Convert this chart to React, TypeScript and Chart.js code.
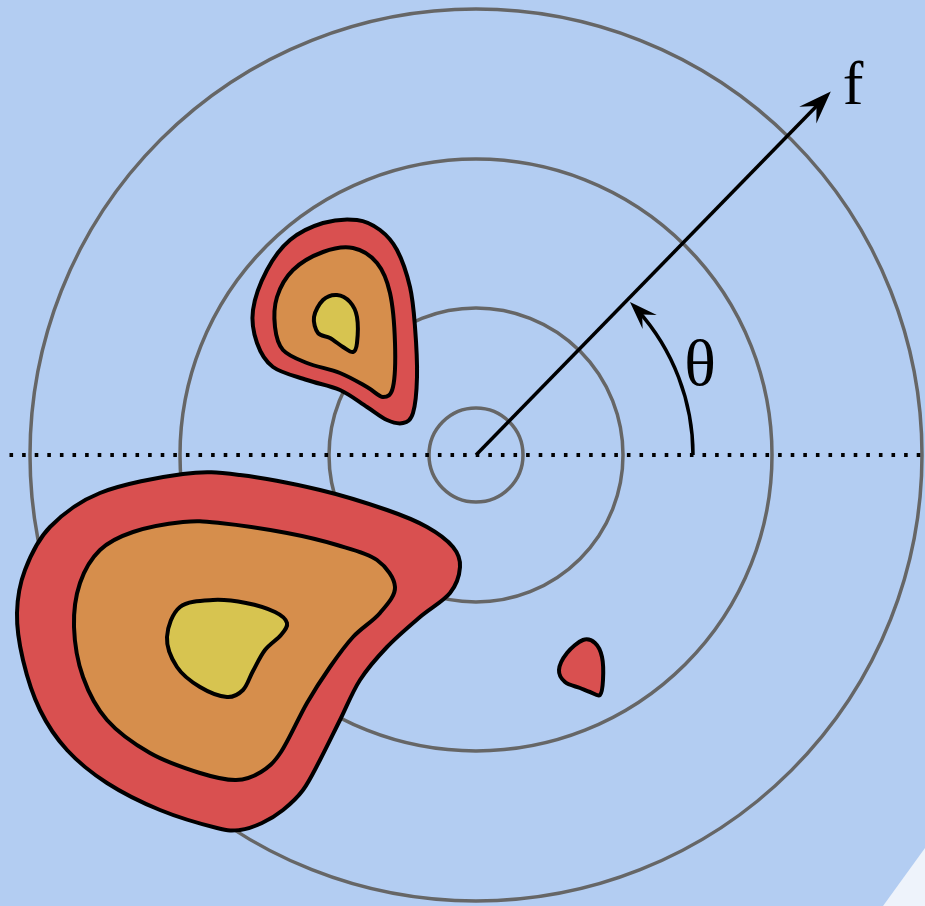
import { useEffect, useRef } from "react";
import { Chart, registerables } from "chart.js";

Chart.register(...registerables);

type Pt = [number, number];

// Plane coordinates are centred on the origin of the polar grid, y pointing up.
const xRange: Pt = [-476, 449];
const yRange: Pt = [-451, 455];

// Radii of the concentric grid rings.
const ringRadii = [47, 147, 296, 446];

// Large contour group (lower left): outer, middle and inner level.
const bigOuter: Pt[] = [
  [-293, -19], [-376, -38], [-426, -72], [-451, -115], [-459, -158], [-453, -205],
  [-436, -255], [-409, -295], [-369, -328], [-316, -355], [-259, -373], [-236, -375],
  [-214, -368], [-193, -355], [-173, -335], [-156, -305], [-136, -265], [-116, -225],
  [-89, -192], [-56, -162], [-26, -138], [-16, -112], [-23, -92], [-49, -72],
  [-89, -55], [-156, -35], [-236, -20],
];
const bigMiddle: Pt[] = [
  [-293, -67], [-343, -77], [-376, -95], [-396, -128], [-402, -172], [-393, -222],
  [-369, -265], [-326, -298], [-276, -318], [-240, -325], [-215, -317], [-195, -297],
  [-169, -248], [-146, -212], [-123, -182], [-96, -158], [-81, -132], [-99, -105],
  [-139, -90], [-189, -78], [-256, -68],
];
const bigInner: Pt[] = [
  [-263, -145], [-296, -152], [-309, -182], [-299, -212], [-276, -232], [-249, -242],
  [-233, -235], [-223, -216], [-211, -195], [-195, -180], [-189, -168], [-201, -157],
  [-230, -148],
];

// Upper contour group.
const topOuter: Pt[] = [
  [-119, 235], [-153, 232], [-186, 215], [-209, 185], [-223, 145], [-219, 112],
  [-203, 88], [-169, 75], [-136, 65], [-109, 48], [-89, 35], [-73, 32],
  [-63, 42], [-59, 78], [-61, 128], [-66, 168], [-79, 205], [-96, 225],
];
const topMiddle: Pt[] = [
  [-123, 207], [-153, 203], [-183, 185], [-199, 158], [-201, 128], [-193, 105],
  [-169, 92], [-136, 82], [-109, 68], [-93, 58], [-83, 68], [-81, 112],
  [-86, 162], [-99, 192],
];
const topInner: Pt[] = [
  [-139, 160], [-153, 155], [-162, 138], [-158, 122], [-146, 117], [-133, 108],
  [-123, 103], [-119, 112], [-119, 138], [-126, 153],
];

// Small isolated contour (lower right).
const smallOuter: Pt[] = [
  [107, -185], [91, -198], [83, -215], [89, -227], [104, -233], [114, -237],
  [124, -240], [127, -225], [126, -202], [119, -188],
];

const levelColors = ["#d95050", "#d68e4c", "#d7c450"];
const contours: { pts: Pt[]; level: number }[] = [
  { pts: bigOuter, level: 0 },
  { pts: bigMiddle, level: 1 },
  { pts: bigInner, level: 2 },
  { pts: topOuter, level: 0 },
  { pts: topMiddle, level: 1 },
  { pts: topInner, level: 2 },
  { pts: smallOuter, level: 0 },
];

// Direction vector f and the angle arc theta.
const fArrow = { angleDeg: 45.7, length: 508 };
const thetaArc = { radius: 217, endDeg: 44.8 };
const fLabel = { text: "f", at: [377, 351] as Pt };
const thetaLabel = { text: "θ", at: [224, 70] as Pt };

const bg = "#b3cdf2";

function stealth(ctx: CanvasRenderingContext2D, tx: number, ty: number, dx: number, dy: number, len: number, hw: number) {
  const px = -dy, py = dx;
  ctx.beginPath();
  ctx.moveTo(tx, ty);
  ctx.lineTo(tx - dx * len + px * hw, ty - dy * len + py * hw);
  ctx.lineTo(tx - dx * len * 0.62, ty - dy * len * 0.62);
  ctx.lineTo(tx - dx * len - px * hw, ty - dy * len - py * hw);
  ctx.closePath();
  ctx.fill();
}

const diagramPlugin = {
  id: "polarDiagram",
  beforeDraw(chart: Chart) {
    const ctx = chart.ctx;
    const w = chart.width, h = chart.height;
    ctx.save();
    ctx.fillStyle = bg;
    ctx.fillRect(0, 0, w, h);
    ctx.fillStyle = "#eef3fb";
    ctx.beginPath();
    ctx.moveTo(w, h - 58);
    ctx.lineTo(w - 42, h);
    ctx.lineTo(w, h);
    ctx.closePath();
    ctx.fill();
    ctx.restore();
  },
  afterDatasetsDraw(chart: Chart) {
    const ctx = chart.ctx;
    const xs = chart.scales.x;
    const ys = chart.scales.y;
    const X = (v: number) => xs.getPixelForValue(v);
    const Y = (v: number) => ys.getPixelForValue(v);
    const cx = X(0), cy = Y(0);
    const unit = X(1) - X(0);
    ctx.save();

    // concentric rings
    ctx.strokeStyle = "#666666";
    ctx.lineWidth = 3.5;
    for (const r of ringRadii) {
      ctx.beginPath();
      ctx.arc(cx, cy, r * unit, 0, Math.PI * 2);
      ctx.stroke();
    }

    // dotted reference axis
    ctx.strokeStyle = "#000";
    ctx.lineWidth = 4;
    ctx.setLineDash([3.6, 9]);
    ctx.beginPath();
    ctx.moveTo(X(xRange[0]) + 9.5, cy);
    ctx.lineTo(X(xRange[1]), cy);
    ctx.stroke();
    ctx.setLineDash([]);

    // contour levels (closed Catmull-Rom curves)
    ctx.lineJoin = "round";
    for (const c of contours) {
      const p = c.pts.map(([a, b]) => [X(a), Y(b)]);
      const n = p.length;
      ctx.beginPath();
      ctx.moveTo(p[0][0], p[0][1]);
      for (let i = 0; i < n; i++) {
        const p0 = p[(i - 1 + n) % n], p1 = p[i], p2 = p[(i + 1) % n], p3 = p[(i + 2) % n];
        ctx.bezierCurveTo(
          p1[0] + (p2[0] - p0[0]) / 6, p1[1] + (p2[1] - p0[1]) / 6,
          p2[0] - (p3[0] - p1[0]) / 6, p2[1] - (p3[1] - p1[1]) / 6,
          p2[0], p2[1]
        );
      }
      ctx.closePath();
      ctx.fillStyle = levelColors[c.level];
      ctx.fill();
      ctx.lineWidth = 4;
      ctx.strokeStyle = "#000";
      ctx.stroke();
    }

    // vector f
    const fa = (fArrow.angleDeg * Math.PI) / 180;
    const dx = Math.cos(fa), dy = -Math.sin(fa);
    const tipX = cx + dx * fArrow.length * unit, tipY = cy + dy * fArrow.length * unit;
    ctx.fillStyle = "#000";
    ctx.lineWidth = 3.5;
    ctx.beginPath();
    ctx.moveTo(cx, cy);
    ctx.lineTo(tipX - dx * 20, tipY - dy * 20);
    ctx.stroke();
    stealth(ctx, tipX, tipY, dx, dy, 33, 12);

    // angle arc theta
    const ta = (thetaArc.endDeg * Math.PI) / 180;
    const rr = thetaArc.radius * unit;
    ctx.beginPath();
    ctx.arc(cx, cy, rr, 0, -(ta - 0.05), true);
    ctx.stroke();
    const atx = cx + Math.cos(ta) * rr, aty = cy - Math.sin(ta) * rr;
    stealth(ctx, atx, aty, -Math.sin(ta), -Math.cos(ta), 28, 10);

    // labels
    ctx.fillStyle = "#000";
    ctx.textAlign = "center";
    ctx.textBaseline = "alphabetic";
    ctx.font = "62px 'Liberation Serif'";
    ctx.fillText(fLabel.text, X(fLabel.at[0]), Y(fLabel.at[1]));
    ctx.font = "66px 'Liberation Serif'";
    ctx.fillText(thetaLabel.text, X(thetaLabel.at[0]), Y(thetaLabel.at[1]));
    ctx.restore();
  },
};

export default function App() {
  const ref = useRef<HTMLCanvasElement | null>(null);
  useEffect(() => {
    if (!ref.current) return;
    const chart = new Chart(ref.current, {
      type: "scatter",
      data: { datasets: [] },
      options: {
        animation: false,
        responsive: false,
        layout: { padding: 0 },
        scales: {
          x: { type: "linear", min: xRange[0], max: xRange[1], display: false },
          y: { type: "linear", min: yRange[0], max: yRange[1], display: false },
        },
        plugins: { legend: { display: false }, tooltip: { enabled: false } },
      },
      plugins: [diagramPlugin],
    });
    return () => chart.destroy();
  }, []);
  return (
    <div style={{ position: "absolute", left: 0, top: 0, width: 925, height: 906 }}>
      <canvas ref={ref} width={925} height={906} style={{ display: "block" }} />
    </div>
  );
}
